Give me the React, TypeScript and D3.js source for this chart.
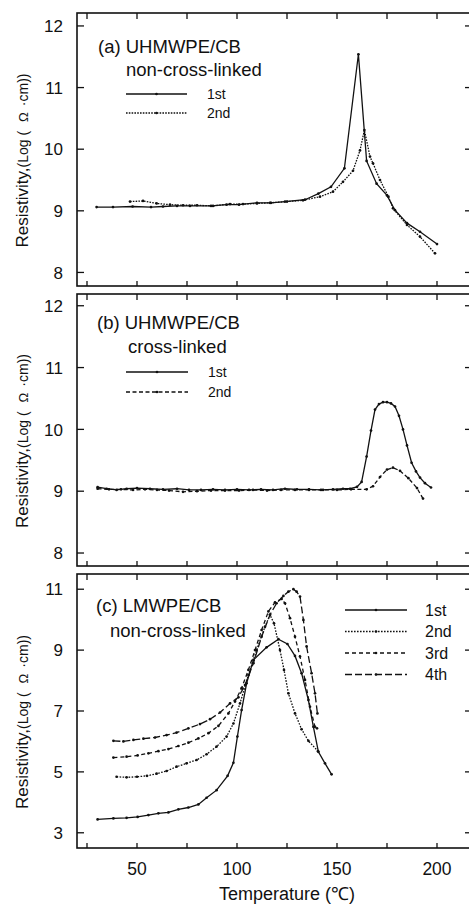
import React from "react";
import * as d3 from "d3";

// ---------- DATA ----------
const xTickValues = [25, 50, 75, 100, 125, 150, 175, 200];
const xTickLabels = [50, 100, 150, 200];

const aYTicks = [8, 9, 10, 11, 12];
const bYTicks = [8, 9, 10, 11, 12];
const cYTicks = [3, 5, 7, 9, 11];

// Panel (a) UHMWPE/CB non-cross-linked
const a1T = [29.8, 38, 47.8, 57, 63, 70, 76.5, 87, 94.8, 101, 110, 117, 124, 134, 140.7, 147, 153.7, 160.7, 164.8, 169.8, 175, 179, 185, 191.5, 200];
const a1V = [9.06, 9.06, 9.07, 9.06, 9.07, 9.08, 9.08, 9.08, 9.1, 9.1, 9.13, 9.13, 9.15, 9.18, 9.28, 9.39, 9.69, 11.54, 9.81, 9.44, 9.25, 9.01, 8.8, 8.66, 8.46];
const a2T = [46.5, 53, 59.8, 66.5, 73, 80, 88, 96.5, 103, 110, 116.5, 125, 133, 141.5, 148, 153, 158, 161.5, 163.7, 166.5, 168, 171.5, 175.7, 178, 185, 191.5, 199];
const a2V = [9.15, 9.16, 9.12, 9.1, 9.09, 9.09, 9.08, 9.11, 9.11, 9.12, 9.13, 9.15, 9.17, 9.23, 9.31, 9.47, 9.65, 9.98, 10.31, 9.88, 9.77, 9.5, 9.23, 9.04, 8.77, 8.58, 8.31];

// Panel (b) UHMWPE/CB cross-linked
const b1T = [30.3, 34.8, 39.8, 44.8, 50, 56.5, 63, 70, 76, 82, 88, 94, 100, 106, 112, 118, 124, 130, 136, 142, 148, 153, 156.5, 160, 162.3, 164.8, 167, 169, 171, 173, 175, 177, 179, 181, 183, 185, 187.3, 189.5, 191.5, 194, 197];
const b1V = [9.065, 9.04, 9.02, 9.04, 9.05, 9.04, 9.03, 9.04, 9.02, 9.02, 9.03, 9.02, 9.03, 9.02, 9.03, 9.02, 9.04, 9.03, 9.03, 9.02, 9.03, 9.04, 9.04, 9.07, 9.15, 9.56, 9.98, 10.32, 10.41, 10.44, 10.44, 10.42, 10.37, 10.22, 10.0, 9.74, 9.46, 9.32, 9.22, 9.13, 9.06];
const b2T = [30.3, 36, 42, 48, 54, 60, 66, 73, 80, 87, 94, 101, 108, 115, 122, 129, 136, 143, 150, 157, 164.8, 168, 171.5, 175, 178, 181.5, 185.7, 190, 193];
const b2V = [9.04, 9.03, 9.03, 9.02, 9.03, 9.02, 9.01, 8.99, 9.0, 9.01, 9.01, 9.01, 9.02, 9.01, 9.02, 9.02, 9.02, 9.02, 9.02, 9.03, 9.03, 9.08, 9.23, 9.35, 9.38, 9.33, 9.21, 9.05, 8.88];

// Panel (c) LMWPE/CB non-cross-linked
const c1T = [30.3, 38.2, 44.8, 50.3, 55.7, 60.7, 65.7, 70.7, 75.7, 80.7, 84.8, 89.8, 95.3, 98.2, 100.2, 102.3, 104.8, 108.2, 114.8, 120.7, 125.2, 129, 132.3, 135.7, 138.2, 140.7, 144, 147.3];
const c1V = [3.44, 3.47, 3.49, 3.52, 3.58, 3.64, 3.67, 3.77, 3.83, 3.93, 4.15, 4.4, 4.87, 5.3, 6.16, 7.03, 7.91, 8.68, 9.09, 9.36, 9.2, 8.81, 8.24, 7.36, 6.48, 5.66, 5.28, 4.92];
const c2T = [39.8, 44.8, 50, 55, 59.8, 64.8, 69.8, 74.8, 79.8, 84.8, 89.8, 94.8, 98.2, 101.5, 105.7, 109.8, 114, 116.5, 118.5, 121.5, 123.5, 125.7, 129, 132.3, 135.7, 140.5];
const c2V = [4.84, 4.82, 4.84, 4.87, 4.94, 5.03, 5.17, 5.28, 5.39, 5.58, 5.83, 6.16, 6.59, 7.25, 8.18, 9.0, 9.77, 10.16, 9.88, 9.0, 8.35, 7.58, 6.92, 6.4, 6.02, 5.68];
const c3T = [38.2, 44.8, 50.3, 55.7, 60.7, 65.7, 70.7, 75.7, 80.7, 85.7, 90.7, 95.7, 99, 102.3, 105.7, 109, 112.3, 115.7, 119, 122.3, 124, 126.5, 129, 131.5, 134, 136.5, 139, 140];
const c3V = [5.47, 5.5, 5.54, 5.61, 5.68, 5.75, 5.85, 5.96, 6.1, 6.27, 6.51, 6.92, 7.31, 7.75, 8.35, 9.0, 9.66, 10.27, 10.57, 10.68, 10.54, 10.05, 9.44, 8.79, 8.02, 7.14, 6.48, 6.43];
const c4T = [38.2, 43.2, 48.2, 53.2, 59, 64.8, 69.8, 75.7, 81.5, 86.5, 91.5, 96.5, 100.7, 104, 108.2, 112.3, 116.5, 119.8, 123.2, 125.7, 128.2, 129.8, 131.5, 133.2, 134.8, 137.3, 139, 140.2];
const c4V = [6.02, 6.0, 6.05, 6.09, 6.13, 6.21, 6.29, 6.43, 6.57, 6.73, 6.95, 7.25, 7.45, 7.85, 8.57, 9.44, 10.16, 10.54, 10.78, 10.92, 11.0, 10.92, 10.76, 9.99, 9.12, 8.24, 7.58, 6.92];

const legendAB = ["1st", "2nd"];
const legendC = ["1st", "2nd", "3rd", "4th"];

// ---------- LAYOUT ----------
const W = 469;
const H = 905;
const FONT = "'Liberation Sans', Arial, Helvetica, sans-serif";
const xLeft = 77;
const xRight = 471;

const x = d3.scaleLinear().domain([20, 217]).range([xLeft, xRight]);

type Series = { t: number[]; v: number[]; dash: string | null };

function Panel(props: {
  top: number;
  bottom: number;
  domain: [number, number];
  yTicks: number[];
  series: Series[];
  showXLabels: boolean;
  children?: React.ReactNode;
}) {
  const { top, bottom, domain, yTicks, series, showXLabels } = props;
  const y = d3.scaleLinear().domain(domain).range([bottom, top]);
  const line = d3
    .line<[number, number]>()
    .x((d) => x(d[0]))
    .y((d) => y(d[1]));
  const mid = (top + bottom) / 2;
  return (
    <g>
      {series.map((s, i) => {
        const pts: [number, number][] = s.t.map((t, j) => [t, s.v[j]]);
        return (
          <g key={i}>
            <path
              d={line(pts) || ""}
              fill="none"
              stroke="#111"
              strokeWidth={1.3}
              strokeDasharray={s.dash || undefined}
            />
            {pts.map((p, j) => (
              <circle key={j} cx={x(p[0])} cy={y(p[1])} r={1.35} fill="#111" />
            ))}
          </g>
        );
      })}
      <rect
        x={xLeft}
        y={top}
        width={xRight - xLeft}
        height={bottom - top}
        fill="none"
        stroke="#111"
        strokeWidth={1.6}
      />
      {xTickValues.map((t) => (
        <g key={t}>
          <line x1={x(t)} x2={x(t)} y1={top} y2={top + 6} stroke="#111" strokeWidth={1.3} />
          <line x1={x(t)} x2={x(t)} y1={bottom} y2={bottom - 5} stroke="#111" strokeWidth={1.3} />
        </g>
      ))}
      {yTicks.map((v) => (
        <g key={v}>
          <line x1={xLeft} x2={xLeft + 7} y1={y(v)} y2={y(v)} stroke="#111" strokeWidth={1.3} />
          <line x1={xRight} x2={xRight - 6} y1={y(v)} y2={y(v)} stroke="#111" strokeWidth={1.3} />
          <text
            x={63}
            y={y(v)}
            dy="0.36em"
            textAnchor="end"
            fontSize={17}
            fontFamily={FONT}
            fill="#111"
          >
            {v}
          </text>
        </g>
      ))}
      {showXLabels &&
        xTickLabels.map((t) => (
          <text
            key={t}
            x={x(t)}
            y={bottom + 27}
            textAnchor="middle"
            fontSize={17.5}
            fontFamily={FONT}
            fill="#111"
          >
            {t}
          </text>
        ))}
      <text
        transform={`translate(22,${mid + 11}) rotate(-90)`}
        textAnchor="middle"
        fontFamily={FONT}
        fill="#111"
        dy="0.35em"
      >
        <tspan fontSize={17}>Resistivity,</tspan>
        <tspan fontSize={14}>(Log (</tspan>
        <tspan fontSize={13} dx={9}>Ω</tspan>
        <tspan fontSize={14} dx={6}>·cm))</tspan>
      </text>
      {props.children}
    </g>
  );
}

function LegendItem(props: { x1: number; x2: number; y: number; dash: string | null; label: string; tx: number; fs: number }) {
  const { x1, x2, y, dash, label, tx, fs } = props;
  return (
    <g>
      <line x1={x1} x2={x2} y1={y} y2={y} stroke="#111" strokeWidth={1.3} strokeDasharray={dash || undefined} />
      <circle cx={(x1 + x2) / 2} cy={y} r={1.35} fill="#111" />
      <text x={tx} y={y} dy="0.36em" fontSize={fs} fontFamily={FONT} fill="#111">
        {label}
      </text>
    </g>
  );
}

export default function App() {
  const dashA = ["", "1.6,1.2"];
  const dashB = ["", "4,2.5"];
  const dashC = ["", "1.6,1.4", "4,3", "7,3"];
  return (
    <svg
      width={W}
      height={H}
      style={{ position: "absolute", left: 0, top: 0, background: "#fff" }}
    >
      <rect x={0} y={0} width={W} height={H} fill="#fff" />
      <Panel
        top={13}
        bottom={286}
        domain={[7.78, 12.21]}
        yTicks={aYTicks}
        showXLabels={false}
        series={[
          { t: a1T, v: a1V, dash: null },
          { t: a2T, v: a2V, dash: dashA[1] },
        ]}
      >
        <text x={98} y={53} fontSize={18.5} fontFamily={FONT} fill="#111">(a) UHMWPE/CB</text>
        <text x={126} y={76} fontSize={18.5} fontFamily={FONT} fill="#111">non-cross-linked</text>
        {legendAB.map((l, i) => (
          <LegendItem key={l} x1={126} x2={187} y={94 + i * 19} dash={dashA[i] || null} label={l} tx={207} fs={14} />
        ))}
      </Panel>
      <Panel
        top={294}
        bottom={566}
        domain={[7.79, 12.19]}
        yTicks={bYTicks}
        showXLabels={false}
        series={[
          { t: b1T, v: b1V, dash: null },
          { t: b2T, v: b2V, dash: dashB[1] },
        ]}
      >
        <text x={97} y={329} fontSize={18.5} fontFamily={FONT} fill="#111">(b) UHMWPE/CB</text>
        <text x={128} y={353} fontSize={18.5} fontFamily={FONT} fill="#111">cross-linked</text>
        {legendAB.map((l, i) => (
          <LegendItem key={l} x1={126} x2={188} y={372 + i * 20} dash={dashB[i] || null} label={l} tx={208} fs={14} />
        ))}
      </Panel>
      <Panel
        top={574}
        bottom={848}
        domain={[2.5, 11.5]}
        yTicks={cYTicks}
        showXLabels={true}
        series={[
          { t: c1T, v: c1V, dash: null },
          { t: c2T, v: c2V, dash: dashC[1] },
          { t: c3T, v: c3V, dash: dashC[2] },
          { t: c4T, v: c4V, dash: dashC[3] },
        ]}
      >
        <text x={96} y={612} fontSize={18.5} fontFamily={FONT} fill="#111">(c) LMWPE/CB</text>
        <text x={110} y={637} fontSize={18.5} fontFamily={FONT} fill="#111">non-cross-linked</text>
        {legendC.map((l, i) => (
          <LegendItem key={l} x1={345} x2={407} y={610 + i * 21.5} dash={dashC[i] || null} label={l} tx={425} fs={16} />
        ))}
      </Panel>
      <text x={287} y={900} textAnchor="middle" fontSize={18} fontFamily={FONT} fill="#111">
        Temperature (℃)
      </text>
    </svg>
  );
}
